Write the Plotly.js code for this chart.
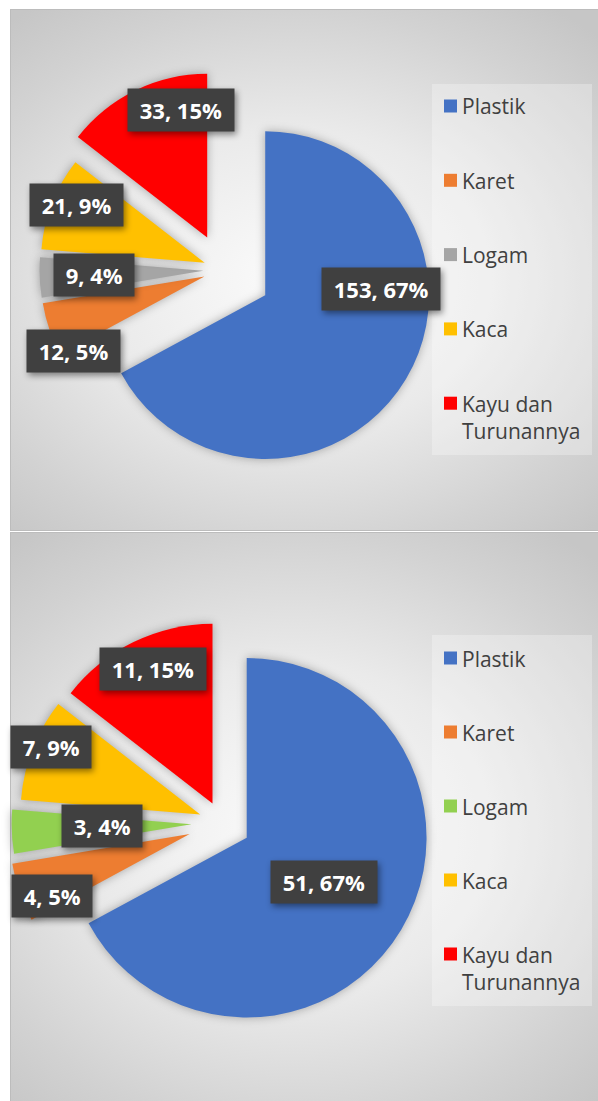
<!DOCTYPE html>
<html>
<head>
<meta charset="utf-8">
<script src="https://cdn.plot.ly/plotly-3.0.1.min.js"></script>
<style>
  html, body { margin: 0; padding: 0; background: #ffffff; }
  #wrap { position: relative; width: 598px; height: 1101px; overflow: hidden; }
  .panel { position: absolute; left: 10px; width: 590px; box-sizing: border-box;
           border: 1px solid #bcbcbc;
           background: radial-gradient(ellipse 75% 65% at 48% 52%, #fbfbfb 0%, #eaeaea 45%, #d2d2d2 80%, #c6c6c6 100%); }
  #p1 { top: 9px; height: 522px; }
  #p2 { top: 532px; height: 575px; }
  #chart { position: absolute; left: 0; top: 0; }
  .pielayer path.surface { filter: drop-shadow(0px 0px 5px rgba(0,0,0,0.30)); }
  .annotation rect.bg { filter: drop-shadow(2px 3px 3px rgba(0,0,0,0.45)); }
</style>
</head>
<body>
<div id="wrap">
  <div class="panel" id="p1"></div>
  <div class="panel" id="p2"></div>
  <div id="chart"></div>
</div>
<script>
// ---------- data ----------
const categories = ['Plastik', 'Karet', 'Logam', 'Kaca', 'Kayu dan Turunannya'];
const values1 = [153, 12, 9, 21, 33];
const values2 = [51, 4, 3, 7, 11];
const colors1 = ['#4472C4', '#ED7D31', '#A5A5A5', '#FFC000', '#FF0000'];
const colors2 = ['#4472C4', '#ED7D31', '#92D050', '#FFC000', '#FF0000'];

// ---------- styling / layout ----------
const W = 598, H = 1101;
const pull1 = [0.30, 0.12, 0.12, 0.12, 0.22];
const pull2 = [0.16, 0.19, 0.17, 0.13, 0.12];
// pie boxes in pixels [x0, x1, y0(top), y1(bottom)]
const box1 = [10, 436, 57, 483];
const box2 = [8, 436, 609, 1037];
// label placement: radial distance (in radii) and angular shift (deg) from slice mid-angle
const lblRho1 = [0.97, 1.04, 0.79, 0.98, 1.01];
const lblShift1 = [-23.8, -9.6, 0, 2.7, 11.4];
const lblRho2 = [0.655, 1.03, 0.67, 1.04, 0.94];
const lblShift2 = [-0.8, -4.2, 1, 2.7, 2.1];
// legend geometry
const legend1 = {box: [432, 592, 84, 455], firstY: 106, step: 74.3};
const legend2 = {box: [432, 592, 635, 1006], firstY: 658, step: 74.0};

const px2x = p => p / W;
const px2y = p => 1 - p / H;
const NB = '\u00A0';

function roundPercents(vals) {
  const tot = vals.reduce((a, b) => a + b, 0);
  const raw = vals.map(v => v / tot * 100);
  const fl = raw.map(Math.floor);
  let rem = 100 - fl.reduce((a, b) => a + b, 0);
  const order = raw.map((r, i) => [r - Math.floor(r), i]).sort((a, b) => b[0] - a[0]);
  for (let k = 0; k < rem; k++) fl[order[k][1]] += 1;
  return fl;
}

function wrapLabel(s) {
  if (s.length <= 12) return s;
  const i = s.lastIndexOf(' ', 12);
  return i > 0 ? s.slice(0, i) + '<br>' + s.slice(i + 1) : s;
}

const traces = [];
const annotations = [];
const shapes = [];

function buildChart(values, colors, pulls, box, rho, shift, legend) {
  traces.push({
    type: 'pie',
    labels: categories,
    values: values,
    marker: {colors: colors, line: {width: 0}},
    pull: pulls,
    sort: false,
    direction: 'clockwise',
    rotation: 0,
    textinfo: 'none',
    hoverinfo: 'label+value+percent',
    showlegend: false,
    domain: {x: [px2x(box[0]), px2x(box[1])], y: [px2y(box[3]), px2y(box[2])]}
  });
  const maxPull = Math.max(...pulls);
  const r = Math.min(box[1] - box[0], box[3] - box[2]) / 2 / (1 + maxPull);
  const cx = (box[0] + box[1]) / 2, cy = (box[2] + box[3]) / 2;
  const tot = values.reduce((a, b) => a + b, 0);
  const pct = roundPercents(values);
  let cum = 0;
  values.forEach((v, i) => {
    const mid = (cum + v / 2) / tot * 360;
    cum += v;
    const a = (mid + shift[i]) * Math.PI / 180;
    const lx = cx + rho[i] * r * Math.sin(a);
    const ly = cy - rho[i] * r * Math.cos(a);
    annotations.push({
      xref: 'paper', yref: 'paper', x: px2x(lx), y: px2y(ly),
      xanchor: 'center', yanchor: 'middle', showarrow: false,
      text: NB + '<b>' + v + ', ' + pct[i] + '%</b>' + NB,
      font: {family: 'Open Sans, sans-serif', size: 22, color: '#ffffff'},
      bgcolor: '#404040', borderpad: 6
    });
  });
  // legend
  const lb = legend.box;
  shapes.push({type: 'rect', xref: 'paper', yref: 'paper',
    x0: px2x(lb[0]), x1: px2x(lb[1]), y0: px2y(lb[3]), y1: px2y(lb[2]),
    fillcolor: 'rgba(255,255,255,0.28)', line: {width: 0}, layer: 'below'});
  categories.forEach((c, i) => {
    const yc = legend.firstY + i * legend.step;
    shapes.push({type: 'rect', xref: 'paper', yref: 'paper',
      x0: px2x(444), x1: px2x(457), y0: px2y(yc + 6.5), y1: px2y(yc - 6.5),
      fillcolor: colors[i], line: {width: 0}});
    annotations.push({
      xref: 'paper', yref: 'paper', x: px2x(461), y: px2y(yc - 14.5),
      xanchor: 'left', yanchor: 'top', align: 'left', showarrow: false,
      text: wrapLabel(c), borderpad: 0,
      font: {family: 'Open Sans, sans-serif', size: 21, color: '#404040'}
    });
  });
}

buildChart(values1, colors1, pull1, box1, lblRho1, lblShift1, legend1);
buildChart(values2, colors2, pull2, box2, lblRho2, lblShift2, legend2);

Plotly.newPlot('chart', traces, {
  width: W, height: H,
  margin: {l: 0, r: 0, t: 0, b: 0},
  paper_bgcolor: 'rgba(0,0,0,0)',
  plot_bgcolor: 'rgba(0,0,0,0)',
  showlegend: false,
  annotations: annotations,
  shapes: shapes
}, {displayModeBar: false, staticPlot: true});
</script>
</body>
</html>
